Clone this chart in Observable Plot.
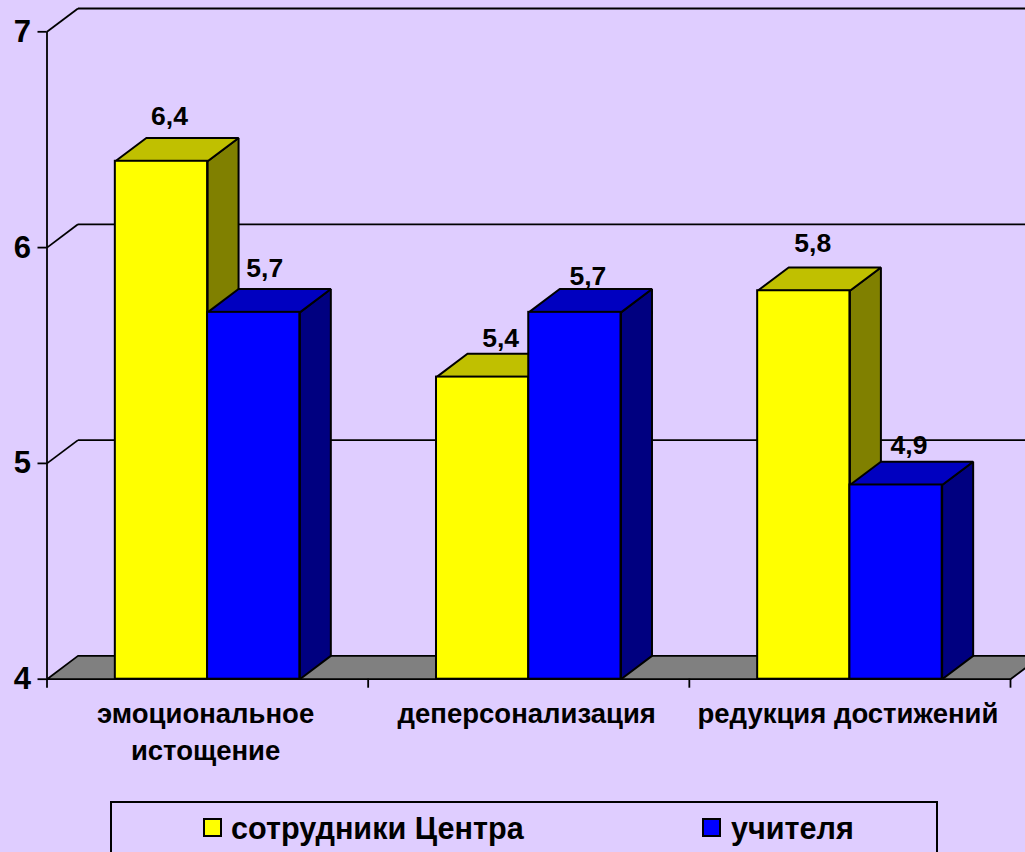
<!DOCTYPE html>
<html>
<head>
<meta charset="utf-8">
<script src="https://cdn.jsdelivr.net/npm/d3@7"></script>
<script src="https://cdn.jsdelivr.net/npm/@observablehq/plot@0.6"></script>
<style>
html,body{margin:0;padding:0;background:#DFCDFF;overflow:hidden;width:1025px;height:852px;font-family:"Liberation Sans",Arial,sans-serif}
#legend{position:absolute;left:110px;top:801px;width:824px;height:70px;border:2px solid #000;box-sizing:content-box}
#legend .sw{position:absolute;top:15px;width:15px;height:15px;border:2px solid #000}
#legend .lb{position:absolute;top:7px;font-weight:bold;font-size:30.6px;line-height:36px;color:#000;white-space:pre}
</style>
</head>
<body>
<div id="chart"></div>
<div id="legend"></div>
<script>
const categories = ["эмоциональное\nистощение", "деперсонализация", "редукция достижений"];
const seriesNames = ["сотрудники Центра", "учителя"];
const employees = [6.4, 5.4, 5.8];
const teachers = [5.7, 5.7, 4.9];
const yTicks = [4, 5, 6, 7];
const xTicks = [0, 1, 2, 3];

const inkFront = ["#FFFF00", "#0000FF"];
const inkTop = ["#C0C000", "#0000C0"];
const inkSide = ["#808000", "#000080"];

const depthX = 31 / 321.33;
const depthY = 23.3 / 215.8;
const barW = 92.3 / 321.33;
const serie = [employees, teachers];
const FS = "Liberation Sans, Arial, sans-serif";

function faces(s) {
  const top = [], side = [], front = [];
  serie[s].forEach((v, i) => {
    const x0 = i + 0.5 + (s - 1) * barW, x1 = x0 + barW;
    front.push({x1: x0, x2: x1, y1: 4, y2: v});
    [[x0, v], [x1, v], [x1 + depthX, v + depthY], [x0 + depthX, v + depthY]]
      .forEach(([x, y]) => top.push({id: i, x, y}));
    [[x1, 4], [x1, v], [x1 + depthX, v + depthY], [x1 + depthX, 4 + depthY]]
      .forEach(([x, y]) => side.push({id: i, x, y}));
  });
  const stroke = {stroke: "#000", strokeWidth: 2, strokeLinejoin: "miter"};
  return [
    Plot.line(side, {x: "x", y: "y", z: "id", curve: "linear-closed", fill: inkSide[s], ...stroke}),
    Plot.line(top, {x: "x", y: "y", z: "id", curve: "linear-closed", fill: inkTop[s], ...stroke}),
    Plot.rect(front, {x1: "x1", x2: "x2", y1: "y1", y2: "y2", fill: inkFront[s], inset: 0, ...stroke})
  ];
}

const floor = [[0, 4], [3, 4], [3 + depthX, 4 + depthY], [depthX, 4 + depthY]].map(([x, y]) => ({x, y}));
const wallTicks = yTicks.slice(1);

// small per-label nudges, as the source's labels sit unevenly over their bars
const nudges = [[[8, -45], [18, -39], [9, -47]], [[11, -44], [13, -36], [13, -39]]];
const labelMarks = serie.flatMap((vals, s) => vals.map((v, i) => Plot.text([v], {
  x: () => i + 0.5 + (s - 0.5) * barW,
  y: d => d,
  text: d => d.toFixed(1).replace(".", ","),
  dx: nudges[s][i][0], dy: nudges[s][i][1],
  fontSize: 26.5, fontWeight: "bold", fontFamily: FS, fill: "#000"
})));

const chart = Plot.plot({
  width: 1025,
  height: 790,
  marginLeft: 46.5,
  marginRight: 15,
  marginTop: 31.3,
  marginBottom: 111.3,
  style: {background: "transparent", overflow: "hidden", maxWidth: "none"},
  x: {domain: [0, 3], axis: null},
  y: {domain: [4, 7], axis: null},
  marks: [
    Plot.link(wallTicks, {x1: () => depthX, x2: () => 3.2, y1: d => d + depthY, y2: d => d + depthY, stroke: "#000", strokeWidth: 1.8}),
    Plot.link(wallTicks, {x1: () => 0, x2: () => depthX, y1: d => d, y2: d => d + depthY, stroke: "#000", strokeWidth: 1.8}),
    Plot.line(floor, {x: "x", y: "y", curve: "linear-closed", fill: "#808080", stroke: "#000", strokeWidth: 1.8}),
    Plot.ruleX([0], {y1: 4, y2: 7, stroke: "#000", strokeWidth: 1.8}),
    Plot.axisY({ticks: yTicks, tickSize: 9, tickPadding: 7, tickFormat: d => d, label: null,
      fontSize: 31, fontWeight: "bold", fontFamily: FS, strokeWidth: 1.8, stroke: "#000"}),
    Plot.axisX({ticks: xTicks, tickSize: 9, tickFormat: () => "", label: null, strokeWidth: 1.8, stroke: "#000"}),
    ...faces(0),
    ...faces(1),
    ...labelMarks,
    Plot.text(categories, {
      x: (d, i) => i + 0.5, y: () => 4, text: d => d,
      dx: -2, dy: 17, lineAnchor: "top", lineHeight: 1.35,
      fontSize: 27.5, fontWeight: "bold", fontFamily: FS, fill: "#000"
    })
  ]
});
document.getElementById("chart").appendChild(chart);

const legend = document.getElementById("legend");
const swatchX = [91, 590], textX = [119, 619];
seriesNames.forEach((name, s) => {
  const sw = document.createElement("span");
  sw.className = "sw"; sw.style.left = swatchX[s] + "px"; sw.style.background = inkFront[s];
  const lb = document.createElement("span");
  lb.className = "lb"; lb.style.left = textX[s] + "px"; lb.textContent = name;
  legend.append(sw, lb);
});
</script>
</body>
</html>
